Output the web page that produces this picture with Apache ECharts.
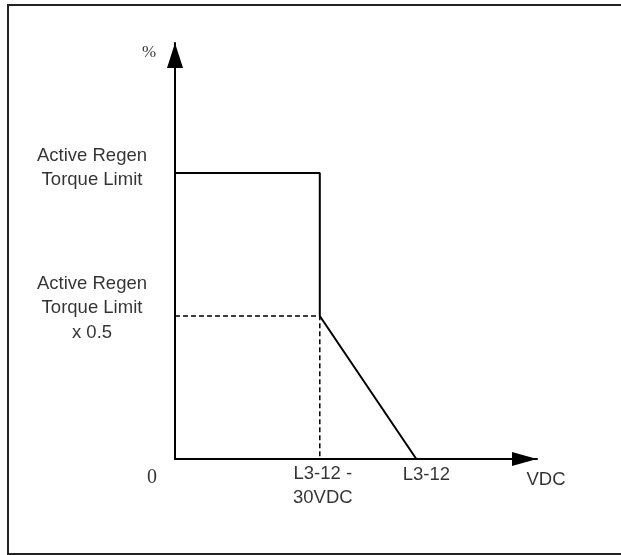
<!DOCTYPE html>
<html>
<head>
<meta charset="utf-8">
<script src="https://cdn.jsdelivr.net/npm/echarts@6/dist/echarts.min.js"></script>
<style>
html,body{margin:0;padding:0;background:#fff;}
#c{width:621px;height:555px;}
</style>
</head>
<body>
<div id="c"></div>
<script>
// Voltage positions (arbitrary units along VDC axis)
const xKnee = 60;      // L3-12 - 30VDC
const xEnd = 100;      // L3-12
const xAxisMax = 150;
// Torque levels (%)
const levelFull = 100;
const levelHalf = 50;
const yAxisMax = 145.5;

// Curves
const solidLine = [[0, levelFull], [xKnee, levelFull], [xKnee, levelHalf], [xEnd, 0]];
const dashedLine = [[0, levelHalf], [xKnee, levelHalf], [xKnee, 0]];

// Texts
const yLevelLabels = ['Active Regen\nTorque Limit', 'Active Regen\nTorque Limit\nx 0.5'];
const xPointLabels = ['L3-12 -\n30VDC', 'L3-12'];
const xAxisName = 'VDC';
const yAxisName = '%';
const originLabel = '0';

const sans = 'Liberation Sans, Arial, sans-serif';
const serif = 'Liberation Serif, Times New Roman, serif';

function lbl(name, value, offset, extra) {
  return {
    name: name,
    value: value,
    label: Object.assign({
      show: true, position: 'inside', offset: offset, formatter: '{b}',
      align: 'center', verticalAlign: 'middle',
      fontFamily: sans, fontSize: 18.5, lineHeight: 24.5, color: '#000'
    }, extra || {})
  };
}

const labelData = [
  lbl(yLevelLabels[0], [0, levelFull], [-83, -5]),
  lbl(yLevelLabels[1], [0, levelHalf], [-83, -8]),
  lbl(xPointLabels[0], [xKnee, 0], [3, 27], {lineHeight: 23.5}),
  lbl(xPointLabels[1], [xEnd, 0], [10, 16]),
  lbl(xAxisName, [xAxisMax, 0], [9, 21]),
  lbl(originLabel, [0, 0], [-23, 19], {fontFamily: serif, fontSize: 20}),
  lbl(yAxisName, [0, yAxisMax], [-26, 10], {fontFamily: serif, fontSize: 17})
];

const chart = echarts.init(document.getElementById('c'), null, {renderer: 'canvas'});
chart.setOption({
  backgroundColor: '#fff',
  animation: false,
  graphic: [{
    type: 'rect', shape: {x: 8, y: 5, width: 640, height: 549},
    style: {fill: 'none', stroke: '#222', lineWidth: 2}, silent: true
  }],
  grid: {left: 175, right: 84, top: 43, bottom: 96, containLabel: false, outerBoundsMode: 'none'},
  xAxis: {
    type: 'value', min: 0, max: xAxisMax,
    axisLine: {show: true, onZero: false, lineStyle: {color: '#000', width: 2},
      symbol: ['none', 'triangle'], symbolSize: [14, 25], symbolOffset: [0, -12.5]},
    axisTick: {show: false}, axisLabel: {show: false}, splitLine: {show: false}
  },
  yAxis: {
    type: 'value', min: 0, max: yAxisMax,
    axisLine: {show: true, onZero: false, lineStyle: {color: '#000', width: 2},
      symbol: ['none', 'triangle'], symbolSize: [16, 25], symbolOffset: [0, -12.5]},
    axisTick: {show: false}, axisLabel: {show: false}, splitLine: {show: false}
  },
  series: [
    {
      type: 'line', data: dashedLine, symbol: 'none', silent: true,
      lineStyle: {color: '#000', width: 1.5, type: [5, 3]}
    },
    {
      type: 'line', data: solidLine, symbol: 'none', silent: true,
      lineStyle: {color: '#000', width: 2}
    },
    {
      type: 'scatter', data: labelData, symbolSize: 0, silent: true, clip: false
    }
  ]
});
</script>
</body>
</html>
